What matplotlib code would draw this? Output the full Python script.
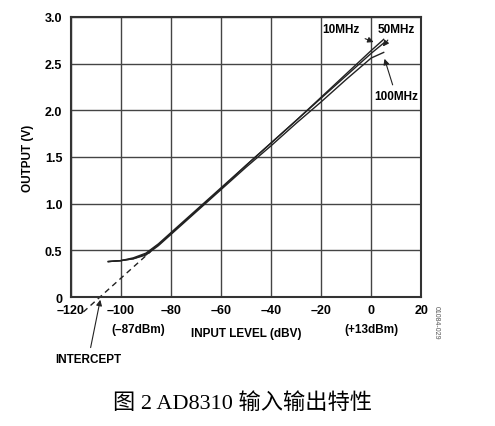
import numpy as np
import matplotlib
matplotlib.use('Agg')
import matplotlib.pyplot as plt

plt.rcParams['font.family'] = ['Liberation Sans', 'Noto Sans CJK SC', 'DejaVu Sans']

# input level (dBV) and output (V)
x_in = [-105, -100, -95, -90, -85, -80, -70, -60, -50, -40, -30, -20, -10, 0, 5]
out_10mhz = [0.38, 0.39, 0.41, 0.46, 0.56, 0.68, 0.92, 1.16, 1.41, 1.65, 1.89, 2.14, 2.39, 2.64, 2.76]
out_50mhz = [0.38, 0.39, 0.42, 0.47, 0.57, 0.69, 0.93, 1.17, 1.41, 1.65, 1.89, 2.13, 2.37, 2.61, 2.72]
out_100mhz = [0.38, 0.39, 0.41, 0.45, 0.55, 0.67, 0.91, 1.15, 1.39, 1.62, 1.86, 2.09, 2.33, 2.56, 2.62]
intercept_x = [-115, -88]
intercept_y = [-0.16, 0.49]

xticks = [-120, -100, -80, -60, -40, -20, 0, 20]
xticklabels = ['–120', '–100', '–80', '–60', '–40', '–20', '0', '20']
yticks = [0, 0.5, 1.0, 1.5, 2.0, 2.5, 3.0]
yticklabels = ['0', '0.5', '1.0', '1.5', '2.0', '2.5', '3.0']

fig = plt.figure(figsize=(4.95, 4.27), dpi=100)
ax = fig.add_axes([0.143, 0.302, 0.708, 0.656])

for y in (out_10mhz, out_50mhz, out_100mhz):
    ax.plot(x_in, y, color='#222222', lw=1.0)
ax.plot(intercept_x, intercept_y, color='#222222', lw=1.0, ls=(0, (4, 3)), clip_on=False)

ax.set_xlim(-120, 20)
ax.set_ylim(0, 3.0)
ax.set_xticks(xticks)
ax.set_xticklabels(xticklabels, fontsize=9, fontweight='bold')
ax.set_yticks(yticks)
ax.set_yticklabels(yticklabels, fontsize=9, fontweight='bold')
ax.tick_params(axis='x', length=0, pad=5)
ax.tick_params(axis='y', length=0, pad=6)
ax.grid(True, color='#444444', lw=1.0)
for s in ax.spines.values():
    s.set_linewidth(1.5)
    s.set_color('#333333')
ax.set_xlabel('INPUT LEVEL (dBV)', fontsize=8.5, fontweight='bold', labelpad=8)
ax.set_ylabel('OUTPUT (V)', fontsize=8.5, fontweight='bold', labelpad=8)

tb = dict(fontsize=8.5, fontweight='bold')
ax.text(-93, -0.28, '(–87dBm)', ha='center', va='top', **tb)
ax.text(0, -0.28, '(+13dBm)', ha='center', va='top', **tb)
ax.annotate('INTERCEPT', xy=(-108, 0), xytext=(-113, -0.6), ha='center', va='top',
            annotation_clip=False, arrowprops=dict(arrowstyle='-|>', color='#222222', lw=0.8), **tb)
ax.annotate('10MHz', xy=(2, 2.72), xytext=(-12, 2.87), ha='center', va='center',
            arrowprops=dict(arrowstyle='-|>', color='#222222', lw=0.8), **tb)
ax.annotate('50MHz', xy=(4, 2.66), xytext=(10, 2.87), ha='center', va='center',
            arrowprops=dict(arrowstyle='-|>', color='#222222', lw=0.8), **tb)
ax.annotate('100MHz', xy=(5, 2.58), xytext=(10, 2.15), ha='center', va='center',
            arrowprops=dict(arrowstyle='-|>', color='#222222', lw=0.8), **tb)
ax.text(24.5, -0.08, '01084-029', rotation=270, fontsize=5, color='#555555', ha='left', va='top')

fig.text(0.49, 0.055, '图 2 AD8310 输入输出特性', fontsize=16, ha='center', va='center',
         family=['Liberation Serif', 'Noto Sans CJK SC'])

fig.savefig('out.png', dpi=100)
